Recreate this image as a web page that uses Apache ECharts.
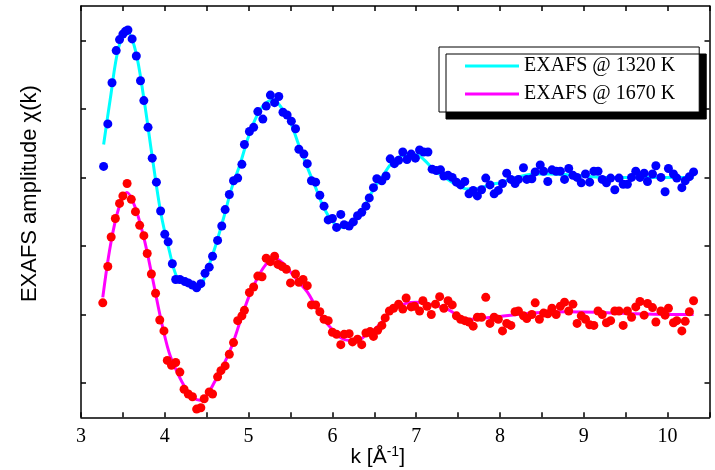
<!DOCTYPE html>
<html>
<head>
<meta charset="utf-8">
<script src="https://cdn.jsdelivr.net/npm/echarts@6/dist/echarts.min.js"></script>
<style>html,body{margin:0;padding:0;background:#fff}#c{width:715px;height:470px}</style>
</head>
<body>
<div id="c"></div>
<script>
// ---- data ----
const kTicks = [3,3.5,4,4.5,5,5.5,6,6.5,7,7.5,8,8.5,9,9.5,10,10.5];
const kLabels = [3,4,5,6,7,8,9,10];
const chiTicks = [-1,0,1,2,3,4];
const seriesNames = ['EXAFS @ 1320 K', 'EXAFS @ 1670 K'];

const pts1320 = [[3.27,2.16],[3.32,2.78],[3.37,3.38],[3.42,3.85],[3.46,4.01],[3.50,4.09],[3.53,4.13],[3.56,4.15],[3.61,4.02],[3.66,3.77],[3.71,3.41],[3.75,3.12],[3.80,2.73],[3.85,2.28],[3.90,1.93],[3.95,1.51],[4.00,1.17],[4.04,1.06],[4.09,0.74],[4.13,0.51],[4.18,0.51],[4.24,0.48],[4.28,0.46],[4.33,0.43],[4.38,0.39],[4.43,0.45],[4.48,0.60],[4.53,0.69],[4.57,0.85],[4.63,1.08],[4.68,1.29],[4.72,1.53],[4.77,1.75],[4.82,1.95],[4.87,1.99],[4.92,2.19],[4.95,2.48],[5.01,2.67],[5.06,2.73],[5.11,2.96],[5.17,2.85],[5.21,3.04],[5.26,3.20],[5.31,3.09],[5.36,3.18],[5.41,2.95],[5.46,2.91],[5.51,2.82],[5.56,2.71],[5.60,2.41],[5.66,2.34],[5.70,2.20],[5.75,1.95],[5.80,1.93],[5.85,1.74],[5.90,1.58],[5.95,1.38],[6.00,1.40],[6.05,1.27],[6.10,1.46],[6.14,1.31],[6.20,1.29],[6.25,1.35],[6.30,1.44],[6.35,1.49],[6.40,1.58],[6.44,1.70],[6.49,1.85],[6.53,1.98],[6.59,1.95],[6.64,2.02],[6.69,2.27],[6.74,2.20],[6.79,2.25],[6.84,2.37],[6.89,2.26],[6.94,2.34],[6.99,2.28],[7.04,2.40],[7.09,2.37],[7.14,2.37],[7.19,2.12],[7.24,2.10],[7.29,2.11],[7.33,2.02],[7.38,2.03],[7.43,2.00],[7.48,1.93],[7.53,1.89],[7.58,1.94],[7.63,1.76],[7.68,1.81],[7.73,1.73],[7.78,1.82],[7.83,1.99],[7.88,1.89],[7.93,1.76],[7.98,1.81],[8.03,1.91],[8.08,2.06],[8.13,1.97],[8.18,1.91],[8.22,1.97],[8.28,2.14],[8.32,1.97],[8.38,1.98],[8.42,2.08],[8.48,2.18],[8.52,2.09],[8.57,1.94],[8.62,2.11],[8.67,2.09],[8.72,2.09],[8.77,1.97],[8.82,2.13],[8.87,2.03],[8.92,2.00],[8.97,1.92],[9.02,2.05],[9.07,1.93],[9.12,2.09],[9.17,2.09],[9.22,1.97],[9.27,1.92],[9.32,1.99],[9.37,1.82],[9.42,1.99],[9.47,1.90],[9.52,1.90],[9.57,2.00],[9.62,2.09],[9.67,2.00],[9.72,2.06],[9.76,1.94],[9.82,2.05],[9.86,2.17],[9.92,2.00],[9.97,1.79],[10.01,2.13],[10.07,2.05],[10.11,1.99],[10.17,1.85],[10.21,1.95],[10.26,2.01],[10.31,2.08]];

const fit1320 = [[3.27,2.48],[3.35,3.15],[3.45,3.9],[3.55,4.12],[3.65,3.85],[3.75,3.15],[3.85,2.3],[3.95,1.5],[4.05,0.95],[4.15,0.53],[4.25,0.47],[4.35,0.41],[4.40,0.38],[4.5,0.63],[4.6,0.98],[4.7,1.4],[4.8,1.85],[4.9,2.2],[5.0,2.6],[5.1,2.9],[5.2,3.08],[5.3,3.13],[5.4,3.0],[5.5,2.8],[5.6,2.47],[5.7,2.15],[5.8,1.85],[5.9,1.55],[6.0,1.36],[6.1,1.27],[6.2,1.29],[6.3,1.42],[6.4,1.62],[6.5,1.85],[6.6,2.02],[6.7,2.2],[6.8,2.3],[6.9,2.33],[7.0,2.33],[7.1,2.25],[7.2,2.12],[7.3,2.03],[7.4,1.95],[7.5,1.88],[7.6,1.83],[7.7,1.83],[7.8,1.86],[7.9,1.9],[8.0,1.92],[8.2,2.0],[8.4,2.05],[8.6,2.05],[8.8,2.04],[9.0,2.02],[9.2,2.0],[9.6,2.0],[10.0,2.0],[10.31,2.0]];

const pts1670 = [[3.26,0.17],[3.32,0.70],[3.36,1.13],[3.41,1.40],[3.46,1.62],[3.50,1.73],[3.55,1.91],[3.60,1.68],[3.65,1.50],[3.70,1.30],[3.75,1.15],[3.79,0.89],[3.84,0.59],[3.89,0.31],[3.94,-0.08],[3.99,-0.24],[4.03,-0.67],[4.08,-0.74],[4.13,-0.70],[4.18,-0.84],[4.23,-1.09],[4.28,-1.16],[4.33,-1.20],[4.38,-1.38],[4.43,-1.36],[4.47,-1.23],[4.53,-1.13],[4.57,-1.16],[4.63,-0.91],[4.67,-0.82],[4.72,-0.75],[4.77,-0.58],[4.82,-0.41],[4.87,-0.09],[4.92,-0.02],[4.95,0.06],[5.01,0.32],[5.06,0.40],[5.11,0.56],[5.16,0.55],[5.21,0.82],[5.26,0.77],[5.31,0.85],[5.35,0.73],[5.40,0.70],[5.45,0.66],[5.50,0.46],[5.56,0.59],[5.60,0.47],[5.65,0.51],[5.70,0.42],[5.75,0.14],[5.80,0.14],[5.85,0.04],[5.90,-0.07],[5.95,-0.09],[6.00,-0.26],[6.05,-0.29],[6.10,-0.44],[6.14,-0.29],[6.20,-0.28],[6.24,-0.40],[6.30,-0.36],[6.35,-0.44],[6.40,-0.27],[6.45,-0.25],[6.49,-0.32],[6.54,-0.23],[6.59,-0.16],[6.63,-0.05],[6.68,0.05],[6.73,0.09],[6.79,0.15],[6.84,0.08],[6.88,0.24],[6.94,0.11],[6.98,0.12],[7.04,0.05],[7.08,0.20],[7.13,0.12],[7.18,0.00],[7.23,0.15],[7.28,0.26],[7.33,0.09],[7.38,0.20],[7.43,0.14],[7.48,-0.02],[7.53,-0.07],[7.58,-0.09],[7.63,-0.11],[7.68,-0.17],[7.73,-0.04],[7.78,-0.04],[7.83,0.25],[7.88,-0.13],[7.93,-0.04],[7.98,-0.07],[8.03,-0.24],[8.08,-0.13],[8.13,-0.16],[8.18,0.04],[8.22,0.05],[8.28,-0.02],[8.32,-0.06],[8.38,0.00],[8.42,0.17],[8.47,-0.07],[8.52,0.02],[8.57,0.01],[8.62,0.09],[8.67,0.00],[8.72,0.12],[8.77,0.18],[8.82,0.05],[8.87,0.15],[8.92,-0.13],[8.97,-0.02],[9.02,-0.07],[9.07,-0.15],[9.12,-0.16],[9.17,0.05],[9.22,0.00],[9.27,-0.12],[9.32,-0.09],[9.37,0.05],[9.42,0.05],[9.47,-0.16],[9.52,0.05],[9.57,-0.04],[9.62,0.11],[9.67,0.19],[9.72,-0.01],[9.76,0.16],[9.82,0.10],[9.86,-0.11],[9.92,0.05],[9.97,-0.01],[10.01,0.09],[10.07,-0.12],[10.11,-0.09],[10.17,-0.24],[10.21,-0.10],[10.26,0.04],[10.31,0.20]];

const fit1670 = [[3.26,0.25],[3.35,1.0],[3.45,1.55],[3.55,1.78],[3.65,1.55],[3.75,1.12],[3.85,0.55],[3.95,-0.05],[4.05,-0.55],[4.15,-0.85],[4.25,-1.08],[4.35,-1.22],[4.42,-1.25],[4.5,-1.18],[4.6,-0.97],[4.7,-0.74],[4.8,-0.46],[4.9,-0.1],[5.0,0.25],[5.1,0.52],[5.2,0.72],[5.3,0.82],[5.4,0.76],[5.5,0.62],[5.6,0.47],[5.7,0.33],[5.8,0.12],[5.9,-0.08],[6.0,-0.22],[6.1,-0.34],[6.2,-0.38],[6.3,-0.38],[6.4,-0.3],[6.5,-0.22],[6.6,-0.1],[6.7,0.05],[6.8,0.12],[6.9,0.17],[7.0,0.18],[7.1,0.17],[7.2,0.14],[7.3,0.11],[7.4,0.06],[7.5,-0.02],[7.6,-0.07],[7.7,-0.07],[7.8,-0.05],[8.0,-0.03],[8.2,0.0],[8.5,0.03],[8.8,0.04],[9.2,0.03],[9.6,0.01],[10.0,0.0],[10.31,0.0]];

// ---- chart ----
const chart = echarts.init(document.getElementById('c'), null, {renderer: 'canvas'});
const axisLineStyle = {color: '#000', width: 1.5};
const tickStyle = {color: '#000', width: 1.5};
const serif = 'Liberation Serif, Times New Roman, serif';
const sans = 'Liberation Sans, Arial, sans-serif';

function xAx(pos, withLabels) {
  const a = {
    type: 'value', position: pos, min: 3, max: 10.5,
    axisLine: {show: true, onZero: false, lineStyle: axisLineStyle},
    axisTick: {show: true, inside: true, length: 5, customValues: kTicks, lineStyle: tickStyle},
    axisLabel: {show: withLabels, customValues: kLabels, fontFamily: serif, fontSize: 20, color: '#000', margin: 9},
    splitLine: {show: false}
  };
  if (withLabels) {
    a.name = '{a|k [Å}{s|-1}{a|]}';
    a.nameLocation = 'middle';
    a.nameGap = 28;
    a.nameMoveOverlap = false;
    a.nameTextStyle = {
      padding: [0, 35, 0, 0],
      rich: {
        a: {fontFamily: sans, fontSize: 21, color: '#000', lineHeight: 24},
        s: {fontFamily: sans, fontSize: 14, color: '#000', lineHeight: 24, verticalAlign: 'top'}
      }
    };
  }
  return a;
}
function yAx(pos, withName) {
  const a = {
    type: 'value', position: pos, min: -1.5, max: 4.5,
    axisLine: {show: true, onZero: false, lineStyle: axisLineStyle},
    axisTick: {show: true, inside: true, length: 5, customValues: chiTicks, lineStyle: tickStyle},
    axisLabel: {show: false},
    splitLine: {show: false}
  };
  if (withName) {
    a.name = 'EXAFS amplitude χ(k)';
    a.nameLocation = 'middle';
    a.nameGap = 40;
    a.nameMoveOverlap = false;
    a.nameRotate = 90;
    a.nameTextStyle = {fontFamily: sans, fontSize: 22, color: '#000', padding: [0, 0, 0, 36]};
  }
  return a;
}

chart.setOption({
  animation: false,
  backgroundColor: '#fff',
  grid: {left: 81, top: 6, width: 628.5, height: 411.3, outerBoundsMode: 'none', containLabel: false},
  xAxis: [xAx('bottom', true), xAx('top', false)],
  yAxis: [yAx('left', true), yAx('right', false)],
  legend: {
    data: seriesNames, selectedMode: false,
    orient: 'vertical', left: 439, top: 47,
    icon: 'rect', itemWidth: 54, itemHeight: 3, itemGap: 8,
    padding: [9, 24, 8, 26],
    backgroundColor: '#fff', borderColor: '#000', borderWidth: 1,
    shadowColor: '#000', shadowBlur: 0, shadowOffsetX: 7, shadowOffsetY: 7,
    textStyle: {fontFamily: serif, fontSize: 20, color: '#000', lineHeight: 20}
  },
  series: [
    {name: seriesNames[0], type: 'line', data: fit1320, showSymbol: false, smooth: 0.35, color: '#00ffff', lineStyle: {width: 3, color: '#00ffff'}, z: 2},
    {name: seriesNames[1], type: 'line', data: fit1670, showSymbol: false, smooth: 0.35, color: '#ff00ff', lineStyle: {width: 3, color: '#ff00ff'}, z: 2},
    {name: 'data 1320 K', type: 'scatter', data: pts1320, symbol: 'circle', symbolSize: 9, itemStyle: {color: '#0000ff', opacity: 1}, z: 3},
    {name: 'data 1670 K', type: 'scatter', data: pts1670, symbol: 'circle', symbolSize: 9, itemStyle: {color: '#ff0000', opacity: 1}, z: 3}
  ]
});
</script>
</body>
</html>
